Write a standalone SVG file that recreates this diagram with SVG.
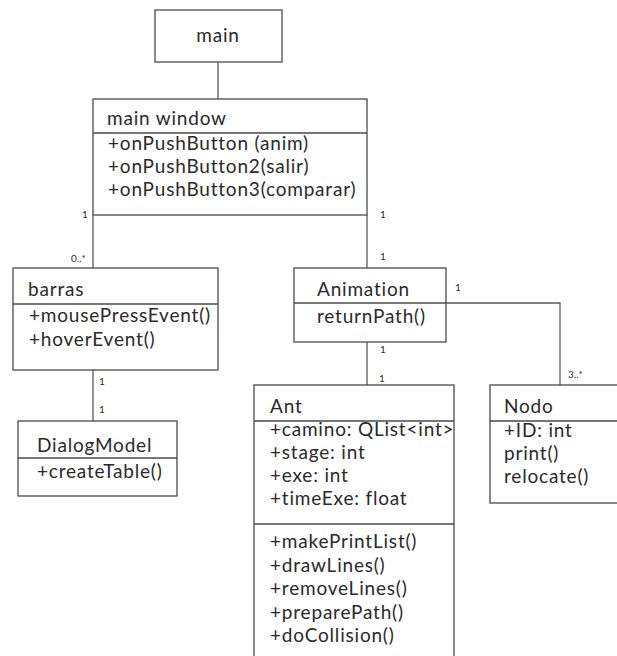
<svg xmlns="http://www.w3.org/2000/svg" width="617" height="656" viewBox="0 0 617 656">
  <style>
    .box { fill: #ffffff; stroke: #4a4a4a; stroke-width: 1.3; }
    .div { stroke: #4a4a4a; stroke-width: 1.3; }
    .edge { fill: none; stroke: #5a5a5a; stroke-width: 1.3; }
    .t { font-family: Lato, "Open Sans", "Liberation Sans", sans-serif; font-size: 19px; letter-spacing: 0.8px; fill: #2a2a2a; }
    .m { font-family: Lato, "Open Sans", "Liberation Sans", sans-serif; font-size: 10px; fill: #2a2a2a; }
  </style>
  <rect width="617" height="656" fill="#ffffff"/>

  <g id="connectors">
    <line class="edge" x1="218" y1="62" x2="218" y2="99"/>
    <line class="edge" x1="93" y1="215" x2="93" y2="268"/>
    <line class="edge" x1="367" y1="215" x2="367" y2="268"/>
    <line class="edge" x1="367" y1="342" x2="367" y2="385"/>
    <polyline class="edge" points="446,303 560,303 560,385"/>
    <line class="edge" x1="93" y1="370" x2="93" y2="421"/>
    <text class="m" x="82" y="218">1</text>
    <text class="m" x="71" y="262">0..*</text>
    <text class="m" x="380" y="218">1</text>
    <text class="m" x="380" y="260">1</text>
    <text class="m" x="455" y="291">1</text>
    <text class="m" x="380" y="353">1</text>
    <text class="m" x="379" y="382">1</text>
    <text class="m" x="568" y="378">3..*</text>
    <text class="m" x="99" y="385">1</text>
    <text class="m" x="99" y="413">1</text>
  </g>

  <g id="main">
    <rect class="box" x="155" y="10" width="127" height="52"/>
    <text class="t" x="218" y="42" text-anchor="middle">main</text>
  </g>

  <g id="main-window">
    <rect class="box" x="93" y="99" width="274" height="116"/>
    <line class="div" x1="93" y1="133" x2="367" y2="133"/>
    <text class="t" x="107" y="125">main window</text>
    <text class="t" x="108" y="150">+onPushButton (anim)</text>
    <text class="t" x="108" y="173">+onPushButton2(salir)</text>
    <text class="t" x="108" y="196">+onPushButton3(comparar)</text>
  </g>

  <g id="barras">
    <rect class="box" x="13" y="268" width="205" height="102"/>
    <line class="div" x1="13" y1="304" x2="218" y2="304"/>
    <text class="t" x="28" y="296">barras</text>
    <text class="t" x="29" y="322">+mousePressEvent()</text>
    <text class="t" x="29" y="346">+hoverEvent()</text>
  </g>

  <g id="animation">
    <rect class="box" x="294" y="268" width="152" height="74"/>
    <line class="div" x1="294" y1="303" x2="446" y2="303"/>
    <text class="t" x="317" y="296">Animation</text>
    <text class="t" x="317" y="323">returnPath()</text>
  </g>

  <g id="dialog-model">
    <rect class="box" x="18" y="421" width="159" height="75"/>
    <line class="div" x1="18" y1="458" x2="177" y2="458"/>
    <text class="t" x="37" y="452">DialogModel</text>
    <text class="t" x="37" y="478">+createTable()</text>
  </g>

  <g id="ant">
    <rect class="box" x="254" y="385" width="200" height="300"/>
    <line class="div" x1="254" y1="421" x2="454" y2="421"/>
    <line class="div" x1="254" y1="524" x2="454" y2="524"/>
    <text class="t" x="270" y="413">Ant</text>
    <text class="t" x="270" y="436">+camino: QList&lt;int&gt;</text>
    <text class="t" x="270" y="459">+stage: int</text>
    <text class="t" x="270" y="482">+exe: int</text>
    <text class="t" x="270" y="505">+timeExe: float</text>
    <text class="t" x="270" y="548">+makePrintList()</text>
    <text class="t" x="270" y="572">+drawLines()</text>
    <text class="t" x="270" y="595">+removeLines()</text>
    <text class="t" x="270" y="619">+preparePath()</text>
    <text class="t" x="270" y="642">+doCollision()</text>
  </g>

  <g id="nodo">
    <rect class="box" x="490" y="385" width="140" height="118"/>
    <line class="div" x1="490" y1="421" x2="630" y2="421"/>
    <text class="t" x="504" y="413">Nodo</text>
    <text class="t" x="504" y="437">+ID: int</text>
    <text class="t" x="504" y="460">print()</text>
    <text class="t" x="504" y="483">relocate()</text>
  </g>
</svg>
